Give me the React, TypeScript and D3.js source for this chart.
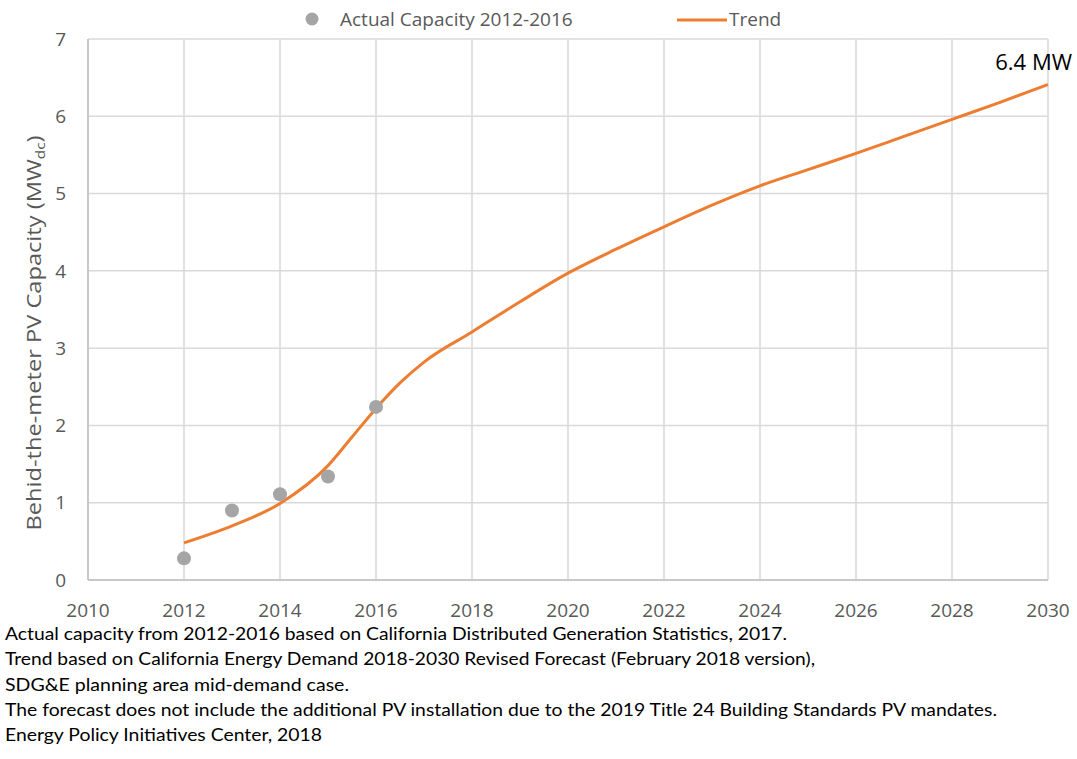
import React from "react";
import * as d3 from "d3";

const actualYears = [2012, 2013, 2014, 2015, 2016];
const actualValues = [0.28, 0.9, 1.11, 1.34, 2.24];

const trendYears = [2012, 2013, 2014, 2015, 2015.5, 2016, 2016.5, 2017, 2018, 2019, 2020, 2021, 2022, 2023, 2024, 2025, 2026, 2027, 2028, 2029, 2030];
const trendValues = [0.48, 0.7, 0.99, 1.48, 1.85, 2.22, 2.55, 2.82, 3.21, 3.6, 3.97, 4.28, 4.57, 4.85, 5.1, 5.31, 5.52, 5.74, 5.96, 6.18, 6.41];

const xTicks = [2010, 2012, 2014, 2016, 2018, 2020, 2022, 2024, 2026, 2028, 2030];
const yTicks = [0, 1, 2, 3, 4, 5, 6, 7];

const footnotes = [
  "Actual capacity from 2012-2016 based on California Distributed Generation Statistics, 2017.",
  "Trend based on California Energy Demand 2018-2030 Revised Forecast (February 2018 version),",
  "SDG&E planning area mid-demand case.",
  "The forecast does not include the additional PV installation due to the 2019 Title 24 Building Standards PV mandates.",
  "Energy Policy Initiatives Center, 2018",
];
const footnoteWidths = [782, 810, 344, 992, 317];

const FONT = "'Open Sans', Lato, sans-serif";
const FOOT_FONT = "Lato, 'Open Sans', sans-serif";

export default function App() {
  const W = 1077;
  const H = 759;
  const x = d3.scaleLinear().domain([2010, 2030]).range([88, 1048]);
  const y = d3.scaleLinear().domain([0, 7]).range([580, 39]);

  const line = d3
    .line<number>()
    .x((_, i) => x(trendYears[i]))
    .y((d) => y(d))
    .curve(d3.curveMonotoneX);

  const gridColor = "#d9d9d9";
  const textColor = "#595959";

  return (
    <svg width={W} height={H} style={{ position: "absolute", left: 0, top: 0, background: "#fff" }} fontFamily={FONT}>
      <rect x={0} y={0} width={W} height={H} fill="#fff" />
      {/* grid */}
      {yTicks.map((t) => (
        <line key={"gy" + t} x1={x(2010)} x2={x(2030)} y1={y(t)} y2={y(t)} stroke={gridColor} strokeWidth={1.5} />
      ))}
      {xTicks.map((t) => (
        <line key={"gx" + t} x1={x(t)} x2={x(t)} y1={y(7)} y2={y(0)} stroke={gridColor} strokeWidth={1.5} />
      ))}
      <line x1={x(2010)} x2={x(2030)} y1={y(0)} y2={y(0)} stroke="#bfbfbf" strokeWidth={1.5} />
      <line x1={x(2010)} x2={x(2010)} y1={y(7)} y2={y(0)} stroke="#bfbfbf" strokeWidth={1.5} />

      {/* y tick labels */}
      {yTicks.map((t) => (
        <text key={"ty" + t} x={66} y={y(t)} dy="0.35em" textAnchor="end" fontSize={19} fill={textColor}>
          {t}
        </text>
      ))}
      {/* x tick labels */}
      {xTicks.map((t) => (
        <text key={"tx" + t} x={x(t)} y={617} textAnchor="middle" fontSize={19} fill={textColor}>
          {t}
        </text>
      ))}

      {/* y axis title */}
      <text
        transform="translate(41,333) rotate(-90)"
        textAnchor="middle"
        fontSize={20}
        fill={textColor}
        textLength={395}
        lengthAdjust="spacingAndGlyphs"
      >
        Behid-the-meter PV Capacity (MW
        <tspan fontSize={13} dy={4}>dc</tspan>
        <tspan dy={-4}>)</tspan>
      </text>

      {/* trend line */}
      <path d={line(trendValues) || ""} fill="none" stroke="#ed7d31" strokeWidth={3} />

      {/* actual points */}
      {actualYears.map((yr, i) => (
        <circle key={"p" + yr} cx={x(yr)} cy={y(actualValues[i])} r={7} fill="#a5a5a5" />
      ))}

      {/* label */}
      <text x={1072} y={70} textAnchor="end" fontSize={22} fill="#000">
        6.4 MW
      </text>

      {/* legend */}
      <circle cx={312} cy={19} r={6.5} fill="#a5a5a5" />
      <text x={340} y={19} dy="0.35em" fontSize={19} fill={textColor}>
        Actual Capacity 2012-2016
      </text>
      <line x1={677} x2={727} y1={20} y2={20} stroke="#ed7d31" strokeWidth={3} />
      <text x={729} y={19} dy="0.35em" fontSize={19} fill={textColor}>
        Trend
      </text>

      {/* footnotes */}
      {footnotes.map((f, i) => (
        <text
          key={"f" + i}
          x={5}
          y={640 + i * 25.3}
          fontSize={18}
          fill="#000"
          fontFamily={FOOT_FONT}
          textLength={footnoteWidths[i]}
          lengthAdjust="spacingAndGlyphs"
        >
          {f}
        </text>
      ))}
    </svg>
  );
}
